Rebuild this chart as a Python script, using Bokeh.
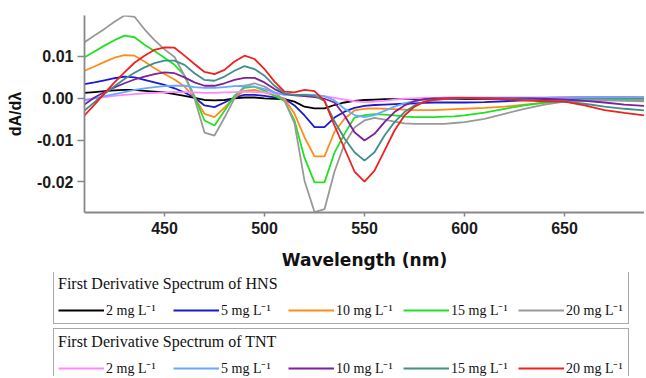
from bokeh.plotting import figure
from bokeh.layouts import column
from bokeh.models import Range1d, FixedTicker, NumeralTickFormatter, Legend, LegendItem
from bokeh.embed import file_html
from bokeh.resources import INLINE

# ---- data ----
wavelength = [410, 415, 420, 425, 430, 435, 440, 445, 450, 455, 460, 465,
              470, 475, 480, 485, 490, 495, 500, 505, 510, 515, 520, 525, 530,
              535, 540, 545, 550, 555, 560, 565, 570, 575, 580, 585, 590, 595, 600,
              610, 620, 630, 640, 650, 660, 670, 680, 690]

hns_2 = [0.0013, 0.0015, 0.0017, 0.0019, 0.0020, 0.0020, 0.0018, 0.0016, 0.0014, 0.0010, 0.0006, 0.0001,
         -0.0004, -0.0005, -0.0004, 0.0000, 0.0002, 0.0002, 0.0000, -0.0001, -0.0002, -0.0008, -0.0020, -0.0024, -0.0024,
         -0.0016, -0.0010, -0.0006, -0.0004, -0.0003, -0.0002, -0.0002, -0.0002, -0.0002, -0.0002, -0.0002, -0.0002, -0.0002, -0.0002,
         -0.0001, -0.0001, 0.0000, 0.0001, 0.0002, 0.0003, 0.0003, 0.0003, 0.0002]
hns_5 = [0.0034, 0.0038, 0.0043, 0.0048, 0.0052, 0.0050, 0.0044, 0.0038, 0.0032, 0.0024, 0.0014, 0.0002,
         -0.0017, -0.0021, -0.0010, 0.0002, 0.0008, 0.0008, 0.0006, 0.0002, -0.0001, -0.0017, -0.0041, -0.0069, -0.0069,
         -0.0046, -0.0032, -0.0023, -0.0018, -0.0016, -0.0015, -0.0014, -0.0013, -0.0012, -0.0011, -0.0010, -0.0010, -0.0010, -0.0010,
         -0.0009, -0.0007, -0.0005, -0.0004, -0.0003, -0.0002, -0.0002, -0.0002, -0.0002]
hns_10 = [0.0066, 0.0076, 0.0087, 0.0097, 0.0103, 0.0102, 0.0088, 0.0072, 0.0058, 0.0045, 0.0028, 0.0002,
          -0.0037, -0.0045, -0.0022, 0.0002, 0.0018, 0.0020, 0.0014, 0.0007, -0.0001, -0.0037, -0.0093, -0.0139, -0.0139,
          -0.0080, -0.0049, -0.0029, -0.0025, -0.0024, -0.0025, -0.0026, -0.0027, -0.0028, -0.0028, -0.0028, -0.0027, -0.0026, -0.0025,
          -0.0023, -0.0020, -0.0015, -0.0011, -0.0008, -0.0005, -0.0004, -0.0004, -0.0004]
hns_15 = [0.0098, 0.0112, 0.0126, 0.0139, 0.0150, 0.0146, 0.0128, 0.0113, 0.0097, 0.0080, 0.0055, 0.0005,
          -0.0053, -0.0065, -0.0030, 0.0006, 0.0025, 0.0028, 0.0018, 0.0006, -0.0006, -0.0053, -0.0142, -0.0201, -0.0201,
          -0.0130, -0.0085, -0.0046, -0.0040, -0.0038, -0.0039, -0.0041, -0.0044, -0.0045, -0.0045, -0.0045, -0.0044, -0.0043, -0.0041,
          -0.0034, -0.0025, -0.0017, -0.0010, -0.0006, -0.0004, -0.0004, -0.0004, -0.0005]
hns_20 = [0.0134, 0.0150, 0.0166, 0.0183, 0.0198, 0.0195, 0.0165, 0.0139, 0.0117, 0.0099, 0.0054, 0.0000,
          -0.0082, -0.0089, -0.0046, 0.0000, 0.0030, 0.0036, 0.0028, 0.0014, -0.0005, -0.0060, -0.0197, -0.0272, -0.0265,
          -0.0175, -0.0109, -0.0070, -0.0053, -0.0047, -0.0051, -0.0056, -0.0060, -0.0061, -0.0061, -0.0061, -0.0061, -0.0059, -0.0057,
          -0.0049, -0.0037, -0.0025, -0.0015, -0.0008, -0.0005, -0.0005, -0.0006, -0.0007]

tnt_2 = [-0.0003, 0.0000, 0.0003, 0.0006, 0.0008, 0.0010, 0.0012, 0.0013, 0.0014, 0.0015, 0.0015, 0.0014,
         0.0013, 0.0013, 0.0014, 0.0015, 0.0016, 0.0015, 0.0014, 0.0011, 0.0009, 0.0008, 0.0008, 0.0007, 0.0005,
         0.0001, -0.0003, -0.0007, -0.0009, -0.0008, -0.0006, -0.0003, -0.0001, 0.0000, 0.0001, 0.0001, 0.0002, 0.0002, 0.0002,
         0.0002, 0.0002, 0.0002, 0.0002, 0.0003, 0.0003, 0.0003, 0.0003, 0.0003]
tnt_5 = [-0.0005, 0.0000, 0.0005, 0.0010, 0.0015, 0.0020, 0.0024, 0.0027, 0.0029, 0.0030, 0.0030, 0.0027,
         0.0025, 0.0025, 0.0027, 0.0029, 0.0030, 0.0028, 0.0022, 0.0014, 0.0008, 0.0008, 0.0009, 0.0008, 0.0005,
         -0.0005, -0.0025, -0.0040, -0.0045, -0.0040, -0.0030, -0.0020, -0.0012, -0.0006, -0.0003, 0.0000, 0.0000, 0.0001, 0.0001,
         0.0001, 0.0001, 0.0001, 0.0001, 0.0001, 0.0002, 0.0002, 0.0002, 0.0002]
tnt_10 = [-0.0015, 0.0002, 0.0015, 0.0026, 0.0036, 0.0045, 0.0052, 0.0058, 0.0062, 0.0060, 0.0050, 0.0038,
          0.0030, 0.0030, 0.0036, 0.0044, 0.0049, 0.0049, 0.0038, 0.0022, 0.0011, 0.0007, 0.0005, 0.0003, -0.0001,
          -0.0010, -0.0041, -0.0081, -0.0101, -0.0085, -0.0057, -0.0033, -0.0017, -0.0007, -0.0002, 0.0000, 0.0000, 0.0000, 0.0000,
          0.0000, 0.0000, 0.0000, -0.0001, -0.0003, -0.0006, -0.0010, -0.0015, -0.0018]
tnt_15 = [-0.0029, -0.0009, 0.0011, 0.0029, 0.0046, 0.0061, 0.0074, 0.0084, 0.0090, 0.0090, 0.0080, 0.0060,
          0.0044, 0.0042, 0.0052, 0.0066, 0.0077, 0.0070, 0.0054, 0.0030, 0.0012, 0.0008, 0.0008, 0.0006, -0.0006,
          -0.0055, -0.0096, -0.0129, -0.0149, -0.0129, -0.0089, -0.0057, -0.0033, -0.0017, -0.0008, -0.0004, -0.0002, -0.0001, 0.0000,
          0.0000, -0.0001, -0.0003, -0.0006, -0.0008, -0.0013, -0.0020, -0.0025, -0.0029]
tnt_20 = [-0.0041, -0.0015, 0.0012, 0.0038, 0.0062, 0.0085, 0.0102, 0.0116, 0.0122, 0.0121, 0.0102, 0.0082,
          0.0063, 0.0058, 0.0068, 0.0088, 0.0102, 0.0094, 0.0070, 0.0040, 0.0016, 0.0014, 0.0020, 0.0017, -0.0006,
          -0.0065, -0.0120, -0.0175, -0.0199, -0.0173, -0.0125, -0.0077, -0.0041, -0.0020, -0.0008, -0.0003, -0.0001, 0.0001, 0.0001,
          0.0000, -0.0002, -0.0005, -0.0007, -0.0008, -0.0017, -0.0028, -0.0035, -0.0041]

concentration_labels = ["2 mg L\u207b\u00b9", "5 mg L\u207b\u00b9", "10 mg L\u207b\u00b9",
                        "15 mg L\u207b\u00b9", "20 mg L\u207b\u00b9"]
hns_series = [hns_2, hns_5, hns_10, hns_15, hns_20]
tnt_series = [tnt_2, tnt_5, tnt_10, tnt_15, tnt_20]
hns_colors = ["#000000", "#1a1ad0", "#ff8c1a", "#22e022", "#999999"]
tnt_colors = ["#ff88ff", "#66aaff", "#7f1f99", "#3f8f8a", "#f02020"]

x_ticks = [450, 500, 550, 600, 650]
y_ticks = [-0.02, -0.01, 0.0, 0.01]
x_limits = (410, 690)
y_limits = (-0.0273, 0.0198)

# ---- main chart ----
p = figure(frame_width=560, frame_height=197, output_backend="svg", toolbar_location=None,
           x_range=Range1d(*x_limits), y_range=Range1d(*y_limits),
           min_border_left=84, min_border_right=0, min_border_top=15, min_border_bottom=0)
p.outline_line_color = None
p.xgrid.visible = False
p.ygrid.visible = False

for ys, c in zip(hns_series, hns_colors):
    p.line(wavelength, ys, line_color=c, line_width=1.8)
for ys, c in zip(tnt_series, tnt_colors):
    p.line(wavelength, ys, line_color=c, line_width=1.8)

for ax in (p.xaxis[0], p.yaxis[0]):
    ax.axis_line_color = "#888888"
    ax.axis_line_width = 1.8
    ax.major_tick_line_color = "#888888"
    ax.major_tick_line_width = 1.5
    ax.major_tick_in = 0
    ax.minor_tick_line_color = None
    ax.major_label_text_font = "Liberation Sans"
    ax.major_label_text_font_style = "bold"
    ax.major_label_text_font_size = "16px"
    ax.major_label_text_color = "#1a1a1a"
    ax.axis_label_text_color = "#111111"

p.xaxis.ticker = FixedTicker(ticks=x_ticks)
p.xaxis.major_tick_out = 4
p.xaxis.major_label_standoff = 5
p.xaxis.axis_label = "Wavelength (nm)"
p.xaxis.axis_label_text_font = "DejaVu Sans"
p.xaxis.axis_label_text_font_style = "bold"
p.xaxis.axis_label_text_font_size = "17px"
p.xaxis.axis_label_standoff = 13

p.yaxis.ticker = FixedTicker(ticks=y_ticks)
p.yaxis.formatter = NumeralTickFormatter(format="0.00")
p.yaxis.major_tick_out = 7
p.yaxis.major_label_standoff = 4
p.yaxis.axis_label = "dA/d\u03bb"
p.yaxis.axis_label_text_font = "Liberation Sans"
p.yaxis.axis_label_text_font_style = "bold"
p.yaxis.axis_label_text_font_size = "16px"
p.yaxis.axis_label_standoff = 10

# ---- legend panel ----
q = figure(frame_width=644, frame_height=104, output_backend="svg", toolbar_location=None,
           x_range=Range1d(0, 1), y_range=Range1d(0, 1),
           x_axis_location=None, y_axis_location=None,
           min_border_left=0, min_border_right=0, min_border_top=0, min_border_bottom=0)
q.outline_line_color = None
q.xgrid.visible = False
q.ygrid.visible = False

nan = float("nan")


def make_legend(title, colors, loc):
    items = []
    for lab, c in zip(concentration_labels, colors):
        r = q.line(x=[nan], y=[nan], line_color=c, line_width=1.8)
        items.append(LegendItem(label=lab, renderers=[r]))
    lg = Legend(items=items, title=title, orientation="horizontal", location=loc,
                title_text_font="Liberation Serif", title_text_font_size="16px",
                title_text_font_style="normal", title_text_color="#111111", title_standoff=7,
                label_text_font="Liberation Serif", label_text_font_size="14px",
                label_text_color="#111111",
                glyph_width=46, glyph_height=18, label_height=18, label_width=58,
                label_standoff=2, spacing=9, padding=4, margin=0,
                border_line_color="#555555", border_line_width=1.5,
                background_fill_color="white", background_fill_alpha=1.0)
    q.add_layout(lg, "center")
    return lg


make_legend("First Derivative Spectrum of HNS", hns_colors, (53, 52))
make_legend("First Derivative Spectrum of TNT", tnt_colors, (53, -6))

layout = column(p, q, spacing=0)
open("out.html", "w").write(file_html(layout, INLINE))
